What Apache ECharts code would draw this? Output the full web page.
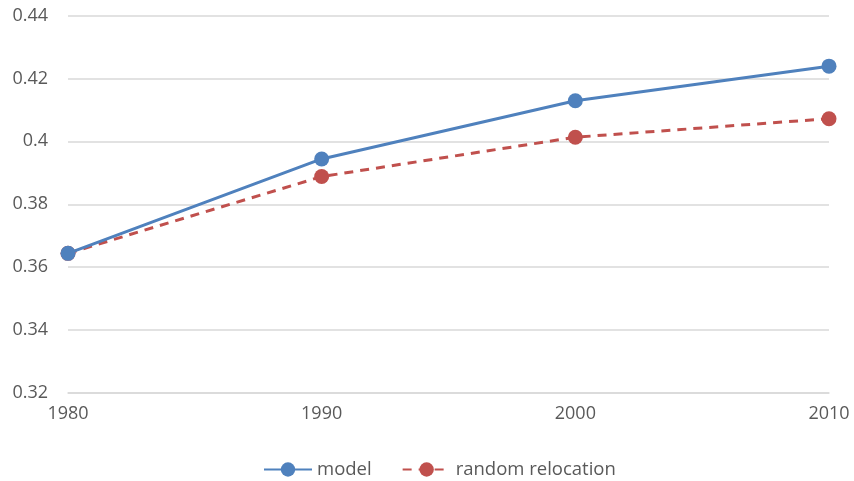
<!DOCTYPE html>
<html><head><meta charset="utf-8">
<script src="https://cdn.jsdelivr.net/npm/echarts@6/dist/echarts.min.js"></script>
<style>html,body{margin:0;padding:0;background:#fff}#c{width:854px;height:481px}</style>
</head><body><div id="c"></div>
<script>
const years = ['1980', '1990', '2000', '2010'];
const modelValues = [0.3644, 0.3944, 0.4129, 0.4239];
const randomValues = [0.3644, 0.3888, 0.4013, 0.4072];

const chart = echarts.init(document.getElementById('c'));
const txt = { color: '#595959', fontSize: 18, fontFamily: 'Open Sans, Liberation Sans, sans-serif' };
chart.setOption({
  animation: false,
  grid: { left: 68, right: 25, top: 15.5, bottom: 88 },
  legend: {
    top: 455, left: 258, itemWidth: 48, itemHeight: 18, itemGap: 30,
    textStyle: Object.assign({}, txt, { fontSize: 18.5 }),
    data: ['model', 'random relocation']
  },
  xAxis: {
    type: 'category', data: years, boundaryGap: false,
    axisLine: { lineStyle: { color: '#D9D9D9', width: 1.5 } },
    axisTick: { show: false },
    axisLabel: Object.assign({ margin: 12 }, txt)
  },
  yAxis: {
    type: 'value', min: 0.32, max: 0.44, interval: 0.02,
    axisLine: { show: false }, axisTick: { show: false },
    splitLine: { lineStyle: { color: '#D9D9D9', width: 1.5 } },
    axisLabel: Object.assign({ margin: 20, formatter: v => String(+v.toFixed(2)) }, txt)
  },
  series: [
    { name: 'model', type: 'line', data: modelValues, symbol: 'circle', symbolSize: 15,
      lineStyle: { color: '#4F81BD', width: 3 }, itemStyle: { color: '#4F81BD' }, z: 3 },
    { name: 'random relocation', type: 'line', data: randomValues, symbol: 'circle', symbolSize: 15,
      lineStyle: { color: '#C0504D', width: 3, type: [9, 7] }, itemStyle: { color: '#C0504D' }, z: 2 }
  ]
});
</script></body></html>
